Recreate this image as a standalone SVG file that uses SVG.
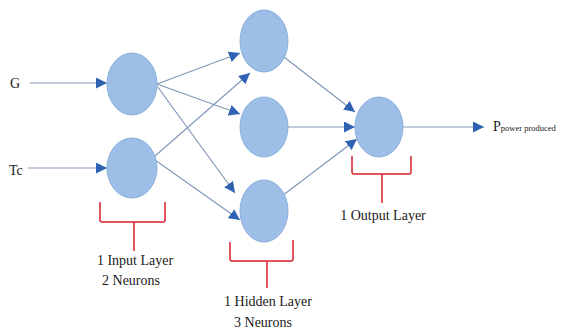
<svg xmlns="http://www.w3.org/2000/svg" width="563" height="334" viewBox="0 0 563 334">
<style>
.node{fill:#9dbfe7;stroke:#8aaedb;stroke-width:1}
.conn{stroke:#8198b8;stroke-width:1.2;fill:none}
.br{stroke:#d9212b;stroke-width:1.5;fill:none}
.t{font-family:"Liberation Serif",serif;font-size:14px;fill:#1a1a1a}
</style>
<defs>
<marker id="ah" viewBox="0 0 10 10" refX="10" refY="5" markerWidth="11" markerHeight="11" markerUnits="userSpaceOnUse" orient="auto">
<path d="M0,0 L10,5 L0,10 z" fill="#2f62b3"/>
</marker>
<radialGradient id="g" cx="0.45" cy="0.45" r="0.6">
<stop offset="0" stop-color="#a7c6ea"/>
<stop offset="1" stop-color="#93b7e2"/>
</radialGradient>
</defs>
<g id="connectors">
<line class="conn" x1="30" y1="83" x2="107" y2="83" marker-end="url(#ah)"/>
<line class="conn" x1="28" y1="168" x2="107" y2="168" marker-end="url(#ah)"/>
<line class="conn" x1="157" y1="84" x2="240" y2="53" marker-end="url(#ah)"/>
<line class="conn" x1="157" y1="84" x2="240" y2="114" marker-end="url(#ah)"/>
<line class="conn" x1="157" y1="86" x2="235" y2="193" marker-end="url(#ah)"/>
<line class="conn" x1="155" y1="156" x2="250" y2="73" marker-end="url(#ah)"/>
<line class="conn" x1="155" y1="160" x2="240" y2="220" marker-end="url(#ah)"/>
<line class="conn" x1="284" y1="57" x2="355" y2="112" marker-end="url(#ah)"/>
<line class="conn" x1="288" y1="127" x2="355" y2="127" marker-end="url(#ah)"/>
<line class="conn" x1="282" y1="196" x2="357" y2="139" marker-end="url(#ah)"/>
<line class="conn" x1="403" y1="127" x2="484" y2="127" marker-end="url(#ah)"/>
</g>
<g id="input-g"><text class="t" x="10" y="88" font-size="15">G</text></g>
<g id="input-tc"><text class="t" x="9" y="175" font-size="15">Tc</text></g>
<g id="n-in1"><ellipse class="node" fill="url(#g)" cx="132" cy="84" rx="25" ry="31"/></g>
<g id="n-in2"><ellipse class="node" fill="url(#g)" cx="132" cy="168" rx="25" ry="30"/></g>
<g id="n-h1"><ellipse class="node" fill="url(#g)" cx="264" cy="41" rx="24" ry="31"/></g>
<g id="n-h2"><ellipse class="node" fill="url(#g)" cx="264" cy="127" rx="24" ry="30"/></g>
<g id="n-h3"><ellipse class="node" fill="url(#g)" cx="264" cy="211" rx="24" ry="31"/></g>
<g id="n-out"><ellipse class="node" fill="url(#g)" cx="379" cy="127" rx="24" ry="30"/></g>
<g id="output-p"><text class="t" x="493" y="131" font-size="15">P<tspan font-size="8.5">power produced</tspan></text></g>
<g id="bracket-input">
<path class="br" d="M100,202 V220 Q100,222 102,222 H163 Q165,222 165,220 V202 M134,222 V251"/>
<text class="t" x="135" y="265" text-anchor="middle">1 Input Layer</text>
<text class="t" x="131" y="285" text-anchor="middle">2 Neurons</text>
</g>
<g id="bracket-hidden">
<path class="br" d="M230,242 V259 Q230,261 232,261 H291 Q293,261 293,259 V240 M267,261 V288"/>
<text class="t" x="268" y="306" text-anchor="middle">1 Hidden Layer</text>
<text class="t" x="263" y="327" text-anchor="middle">3 Neurons</text>
</g>
<g id="bracket-output">
<path class="br" d="M352,156 V172 Q352,174 354,174 H409 Q411,174 411,172 V156 M382,174 V203"/>
<text class="t" x="383" y="220" text-anchor="middle">1 Output Layer</text>
</g>
</svg>
